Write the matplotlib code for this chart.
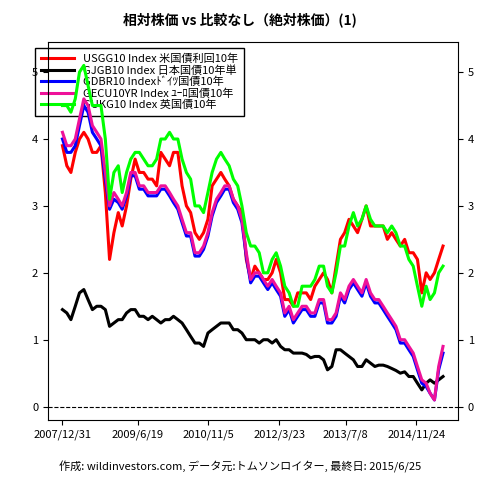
import numpy as np
import pandas as pd
import matplotlib
matplotlib.use("Agg")
import matplotlib.pyplot as plt

plt.rcParams['font.family'] = ['Noto Sans CJK JP', 'DejaVu Sans']

dates = pd.date_range("2008-01-01", "2015-06-01", freq="MS")

us = [3.9, 3.6, 3.5, 3.8, 4.0, 4.1, 4.0, 3.8, 3.8, 3.9, 3.2, 2.2,
      2.6, 2.9, 2.7, 3.0, 3.4, 3.7, 3.5, 3.5, 3.4, 3.4, 3.3, 3.8,
      3.7, 3.6, 3.8, 3.8, 3.3, 3.0, 2.9, 2.6, 2.5, 2.6, 2.8, 3.3,
      3.4, 3.5, 3.4, 3.3, 3.1, 3.0, 2.9, 2.2, 1.9, 2.1, 2.0, 1.9,
      1.9, 2.0, 2.2, 2.0, 1.6, 1.6, 1.5, 1.7, 1.7, 1.7, 1.6, 1.8,
      1.9, 2.0, 1.9, 1.7, 2.1, 2.5, 2.6, 2.8, 2.7, 2.6, 2.8, 3.0,
      2.7, 2.7, 2.7, 2.7, 2.5, 2.6, 2.5, 2.4, 2.5, 2.3, 2.3, 2.2,
      1.7, 2.0, 1.9, 2.0, 2.2, 2.4]
jp = [1.45, 1.4, 1.3, 1.5, 1.7, 1.75, 1.6, 1.45, 1.5, 1.5, 1.45, 1.2,
      1.25, 1.3, 1.3, 1.4, 1.45, 1.45, 1.35, 1.35, 1.3, 1.35, 1.3, 1.25,
      1.3, 1.3, 1.35, 1.3, 1.25, 1.15, 1.05, 0.95, 0.95, 0.9, 1.1, 1.15,
      1.2, 1.25, 1.25, 1.25, 1.15, 1.15, 1.1, 1.0, 1.0, 1.0, 0.95, 1.0,
      1.0, 0.95, 1.0, 0.9, 0.85, 0.85, 0.8, 0.8, 0.8, 0.78, 0.73, 0.75,
      0.75, 0.7, 0.55, 0.6, 0.85, 0.85, 0.8, 0.75, 0.7, 0.6, 0.6, 0.7,
      0.65, 0.6, 0.62, 0.62, 0.6, 0.57, 0.54, 0.5, 0.52, 0.45, 0.45, 0.35,
      0.25, 0.35, 0.4, 0.35, 0.4, 0.45]
de = [4.0, 3.8, 3.8, 3.9, 4.2, 4.5, 4.4, 4.1, 4.0, 3.9, 3.4, 2.95,
      3.1, 3.05, 2.95, 3.15, 3.45, 3.45, 3.25, 3.25, 3.15, 3.15, 3.15, 3.25,
      3.25, 3.15, 3.05, 2.95, 2.75, 2.55, 2.55, 2.25, 2.25, 2.35, 2.55, 2.85,
      3.05, 3.15, 3.25, 3.25, 3.05, 2.95, 2.75, 2.25, 1.85, 1.95, 1.95, 1.85,
      1.75, 1.85, 1.75, 1.65, 1.35, 1.45, 1.25, 1.35, 1.45, 1.45, 1.35, 1.35,
      1.55, 1.55, 1.25, 1.25, 1.35, 1.65, 1.55, 1.75, 1.85, 1.75, 1.65, 1.85,
      1.65, 1.55, 1.55, 1.45, 1.35, 1.25, 1.15, 0.95, 0.95, 0.85, 0.75, 0.55,
      0.35, 0.3, 0.2, 0.1, 0.55, 0.8]
eu = [4.1, 3.9, 3.9, 4.0, 4.3, 4.6, 4.5, 4.2, 4.1, 4.0, 3.5, 3.0,
      3.2, 3.1, 3.0, 3.2, 3.5, 3.5, 3.3, 3.3, 3.2, 3.2, 3.2, 3.3,
      3.3, 3.2, 3.1, 3.0, 2.8, 2.6, 2.6, 2.3, 2.3, 2.4, 2.6, 2.9,
      3.1, 3.2, 3.3, 3.3, 3.1, 3.0, 2.8, 2.3, 1.9, 2.0, 2.0, 1.9,
      1.8, 1.9, 1.8, 1.7, 1.4, 1.5, 1.3, 1.4, 1.5, 1.5, 1.4, 1.4,
      1.6, 1.6, 1.3, 1.3, 1.4, 1.7, 1.6, 1.8, 1.9, 1.8, 1.7, 1.9,
      1.7, 1.6, 1.6, 1.5, 1.4, 1.3, 1.2, 1.0, 1.0, 0.9, 0.8, 0.6,
      0.4, 0.35, 0.2, 0.1, 0.6, 0.9]
uk = [4.5, 4.5, 4.4, 4.6, 5.0, 5.1, 4.8, 4.5, 4.5, 4.5, 4.0, 3.1,
      3.5, 3.6, 3.2, 3.5, 3.7, 3.8, 3.8, 3.7, 3.6, 3.6, 3.7, 4.0,
      4.0, 4.1, 4.0, 4.0, 3.7, 3.5, 3.4, 3.0, 3.0, 2.9, 3.2, 3.5,
      3.7, 3.8, 3.7, 3.6, 3.4, 3.3, 3.0, 2.6, 2.4, 2.4, 2.3, 2.0,
      2.0, 2.2, 2.3, 2.1, 1.8, 1.7, 1.5, 1.5, 1.8, 1.8, 1.8, 1.9,
      2.1, 2.1, 1.8, 1.7, 2.0, 2.4, 2.4, 2.7, 2.9, 2.7, 2.8, 3.0,
      2.8, 2.7, 2.7, 2.7, 2.6, 2.7, 2.6, 2.4, 2.4, 2.2, 2.1, 1.8,
      1.5, 1.8, 1.6, 1.7, 2.0, 2.1]

series = [
    ("USGG10 Index 米国債利回10年", us, "#ff0000"),
    ("GJGB10 Index 日本国債10年単", jp, "#000000"),
    ("GDBR10 Indexﾄﾞｲﾂ国債10年", de, "#0000ff"),
    ("GECU10YR Index ﾕｰﾛ国債10年", eu, "#ee1199"),
    ("GUKG10 Index 英国債10年", uk, "#00ff00"),
]
tick_dates = ["2007/12/31", "2009/6/19", "2010/11/5", "2012/3/23", "2013/7/8", "2014/11/24"]

fig = plt.figure(figsize=(4.8, 4.8), dpi=100)
ax = fig.add_axes([0.1, 0.125, 0.854, 0.7875])
for label, vals, color in series:
    ax.plot(dates, vals, color=color, lw=2.2, label=label)
ax.axhline(0, color="black", lw=0.8, ls="--")

ax.set_ylim(-0.2, 5.45)
ax.set_xlim(pd.Timestamp("2007-09-20"), pd.Timestamp("2015-09-15"))
ax.set_yticks(range(6))
ax.set_xticks([pd.Timestamp(d) for d in tick_dates])
ax.set_xticklabels(tick_dates, fontsize=8)
ax.tick_params(axis="y", labelsize=8, right=True, labelright=True)

leg = ax.legend(loc="upper left", fontsize=8, frameon=True, fancybox=False,
                handlelength=3, borderpad=0.5, labelspacing=0.1,
                bbox_to_anchor=(-0.045, 1.0))
leg.get_frame().set_facecolor("none")
leg.get_frame().set_edgecolor("black")
leg.get_frame().set_alpha(None)
leg.set_zorder(0)

fig.suptitle("相対株価 vs 比較なし（絶対株価）(1)", fontsize=10, fontweight="bold", y=0.975)
fig.text(0.5, 0.02, "作成: wildinvestors.com, データ元:トムソンロイター, 最終日: 2015/6/25",
         ha="center", fontsize=8)
fig.savefig("out.png", dpi=100)
